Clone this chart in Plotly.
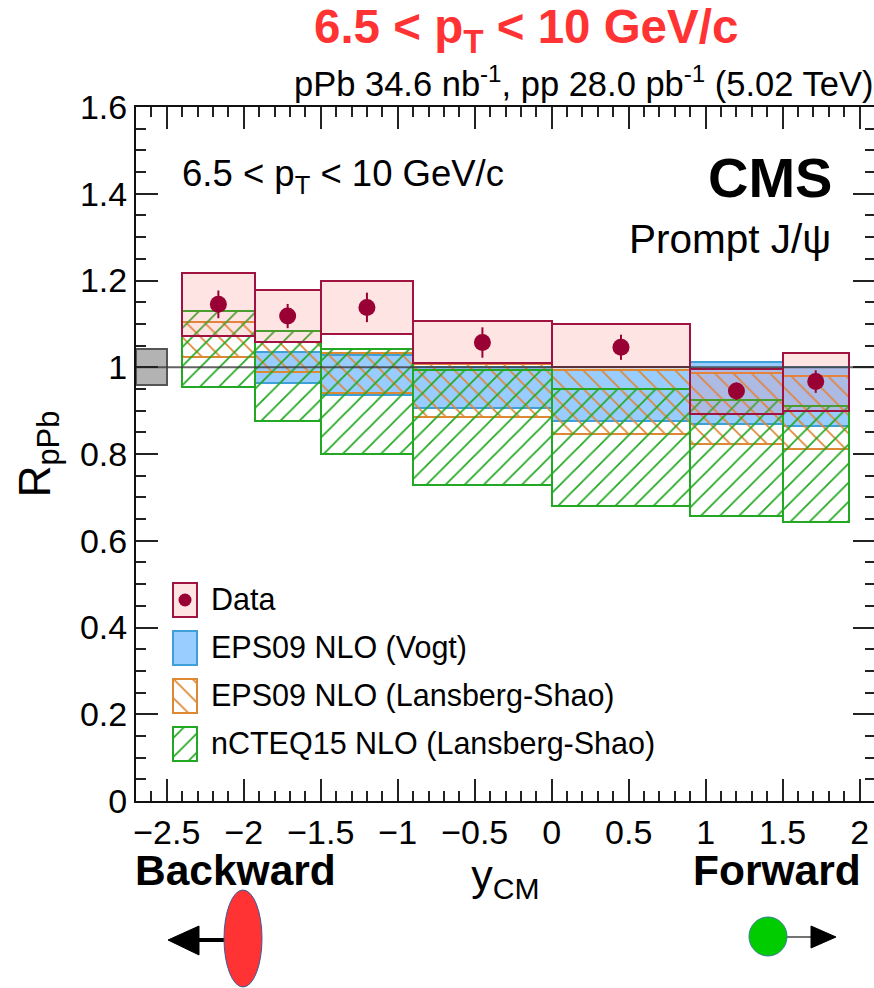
import plotly.graph_objects as go

# ---- data ----
bin_edges = [-2.4, -1.93, -1.5, -0.9, 0.0, 0.9, 1.5, 1.93]
rpa_x = [-2.165, -1.715, -1.2, -0.45, 0.45, 1.2, 1.715]
rpa = [1.145, 1.118, 1.138, 1.057, 1.046, 0.945, 0.967]
rpa_err = [0.032, 0.028, 0.034, 0.035, 0.029, 0.02, 0.026]
data_hi = [1.218, 1.177, 1.199, 1.107, 1.099, 0.996, 1.034]
data_lo = [1.072, 1.059, 1.077, 1.009, 1.000, 0.893, 0.899]
vogt_hi = [1.036, 1.028, 1.000, 0.994, 1.011, 1.001]
vogt_lo = [0.963, 0.936, 0.905, 0.876, 0.869, 0.865]
eps_hi = [1.105, 1.059, 1.034, 1.007, 0.994, 0.986, 0.980]
eps_lo = [1.024, 0.988, 0.941, 0.886, 0.845, 0.822, 0.811]
ncteq_hi = [1.130, 1.084, 1.041, 0.994, 0.949, 0.924, 0.911]
ncteq_lo = [0.954, 0.875, 0.800, 0.728, 0.681, 0.656, 0.643]
lumi_unc = [0.958, 1.043]
x_range = [-2.7, 2.1]
y_range = [0, 1.6]
x_ticks = [-2.5, -2, -1.5, -1, -0.5, 0, 0.5, 1, 1.5, 2]
x_labels = ["\u22122.5", "\u22122", "\u22121.5", "\u22121", "\u22120.5", "0", "0.5", "1", "1.5", "2"]
y_ticks = [0, 0.2, 0.4, 0.6, 0.8, 1, 1.2, 1.4, 1.6]
y_labels = ["0", "0.2", "0.4", "0.6", "0.8", "1", "1.2", "1.4", "1.6"]
legend_names = ["Data", "EPS09 NLO (Vogt)", "EPS09 NLO (Lansberg-Shao)", "nCTEQ15 NLO (Lansberg-Shao)"]

# ---- layout ----
W, H = 878, 988   # the frame's right edge falls just outside the 874 px window, as in the reference
L, R, T, B = 136, 875, 107, 801
FONT = "Liberation Sans"
CRIM, BLUE, ORANGE, GREEN = "#a0123f", "#3f9fd8", "#dd8833", "#22a822"
PINK = "rgba(255,110,110,0.19)"
BLUEFILL = "#99ccff"


def px(x):
    return (x - L) / (R - L)


def py(y):
    return (B - y) / (B - T)


def dx(x):
    return x_range[0] + (x - L) / (R - L) * (x_range[1] - x_range[0])


def dy(y):
    return y_range[0] + (B - y) / (B - T) * (y_range[1] - y_range[0])


def band(lo, hi, edges, color, fill="rgba(0,0,0,0)", shape="", lw=2, psize=13.5):
    cx = [(a + b) / 2 for a, b in zip(edges[:-1], edges[1:])]
    wd = [b - a for a, b in zip(edges[:-1], edges[1:])]
    return go.Bar(
        x=cx, y=[h - l for h, l in zip(hi, lo)], base=lo, width=wd,
        marker=dict(color=fill, line=dict(color=color, width=lw),
                    pattern=dict(shape=shape, fgcolor=color, bgcolor="rgba(0,0,0,0)",
                                 size=psize, solidity=0.13, fgopacity=1)),
        showlegend=False, hoverinfo="skip")


fig = go.Figure()
fig.add_trace(band([lumi_unc[0]], [lumi_unc[1]], [x_range[0], -2.5], "#555555", "#b3b3b3"))
fig.add_trace(band(vogt_lo, vogt_hi, bin_edges[1:], BLUE, BLUEFILL))
fig.add_trace(band(eps_lo, eps_hi, bin_edges, ORANGE, shape="\\", psize=13))
fig.add_trace(band(ncteq_lo, ncteq_hi, bin_edges, GREEN, shape="/"))
fig.add_trace(band(data_lo, data_hi, bin_edges, CRIM, PINK))

# legend swatches
sw_x = [dx(173), dx(197)]
sw_rows = [(583, 617), (631, 665), (679, 713), (727, 761)]
sw_style = [(CRIM, PINK, ""), (BLUE, BLUEFILL, ""), (ORANGE, "rgba(0,0,0,0)", "\\"), (GREEN, "rgba(0,0,0,0)", "/")]
for (y0, y1), (c, f, s) in zip(sw_rows, sw_style):
    fig.add_trace(band([dy(y1)], [dy(y0)], sw_x, c, f, s))

# unity line
fig.add_trace(go.Scatter(x=x_range, y=[1, 1], mode="lines", line=dict(color="rgba(60,60,60,0.8)", width=2),
                         showlegend=False, hoverinfo="skip"))
# data points
fig.add_trace(go.Scatter(x=rpa_x, y=rpa, mode="markers",
                         marker=dict(color="#990033", size=17),
                         error_y=dict(type="data", array=rpa_err, color="#990033", thickness=2, width=0),
                         showlegend=False, hoverinfo="skip"))
fig.add_trace(go.Scatter(x=[(sw_x[0] + sw_x[1]) / 2], y=[dy(600)], mode="markers",
                         marker=dict(color="#990033", size=13), showlegend=False, hoverinfo="skip"))


def text(t, x, y, size, anchor="left", bold=False, color="black"):
    if bold:
        t = "<b>" + t + "</b>"
    fig.add_annotation(text=t, x=px(x), y=py(y), xref="paper", yref="paper", xanchor=anchor, yanchor="middle",
                       showarrow=False, font=dict(family=FONT, size=size, color=color), borderpad=0)


text("6.5 &lt; p<sub>T</sub> &lt; 10 GeV/c", 313, 30, 47.5, bold=True, color="#ff3333")
text("pPb 34.6 nb<sup>-1</sup>, pp 28.0 pb<sup>-1</sup> (5.02 TeV)", 874, 81, 34.5, anchor="right")
text("6.5 &lt; p<sub>T</sub> &lt; 10 GeV/c", 181, 176, 36.5)
text("CMS", 833, 177, 56, anchor="right", bold=True)
text("Prompt J/\u03c8", 832, 239, 40.5, anchor="right")
for name, (y0, y1) in zip(legend_names, sw_rows):
    text(name, 210, (y0 + y1) / 2 - 1, 30.5)
text("Backward", 134, 870, 42.5, bold=True)
text("Forward", 862, 870, 42.5, anchor="right", bold=True)

shapes = [
    dict(type="line", x0=px(198), x1=px(226), y0=py(940), y1=py(940), line=dict(color="black", width=4)),
    dict(type="path", path=f"M{px(168)},{py(940)} L{px(199)},{py(926)} L{px(199)},{py(955)} Z",
         fillcolor="black", line=dict(color="black", width=1)),
    dict(type="circle", x0=px(224), x1=px(262), y0=py(890), y1=py(987), fillcolor="#ff3333",
         line=dict(color="#3a5a9a", width=1)),
    dict(type="line", x0=px(786), x1=px(812), y0=py(937), y1=py(937), line=dict(color="#444444", width=1.5)),
    dict(type="path", path=f"M{px(836)},{py(937)} L{px(811)},{py(926)} L{px(811)},{py(948)} Z",
         fillcolor="black", line=dict(color="black", width=1)),
    dict(type="circle", x0=px(749), x1=px(787), y0=py(917), y1=py(956), fillcolor="#00cc00",
         line=dict(color="#3a7a9a", width=1)),
]
for s in shapes:
    s.update(xref="paper", yref="paper")


def axis(rng, ticks, labels, minor, major_len):
    return dict(range=rng, tickmode="array", tickvals=ticks, ticktext=labels, ticks="inside", ticklen=major_len,
                tickwidth=1.5, tickcolor="#222222", showgrid=False, zeroline=False, showline=True, linecolor="#111111",
                linewidth=2, mirror="allticks", automargin=False, tickfont=dict(family=FONT, size=34, color="black"),
                minor=dict(ticks="inside", ticklen=10, tickwidth=1.5, tickcolor="#222222", dtick=minor,
                           showgrid=False))


xa = axis(x_range, x_ticks, x_labels, 0.1, 22)
xa["minor"]["tick0"] = 0
ya = axis(y_range, y_ticks, y_labels, 0.05, 22)
ya["minor"]["tick0"] = 0
xa["title"] = dict(text="y<sub>CM</sub>", font=dict(family=FONT, size=43, color="black"), standoff=6)
ya["title"] = dict(text="R<sub>pPb</sub>", font=dict(family=FONT, size=44, color="black"), standoff=16)

fig.update_layout(width=W, height=H, autosize=False, barmode="overlay", bargap=0,
                  margin=dict(l=L, r=W - R, t=T, b=H - B, pad=0), paper_bgcolor="white", plot_bgcolor="white",
                  xaxis=xa, yaxis=ya, shapes=shapes, showlegend=False, font=dict(family=FONT))

fig.write_html("out.html", config=dict(displayModeBar=False),
               post_script="document.body.style.margin='0';document.body.style.overflow='hidden';"
                           "document.documentElement.style.overflow='hidden';")
